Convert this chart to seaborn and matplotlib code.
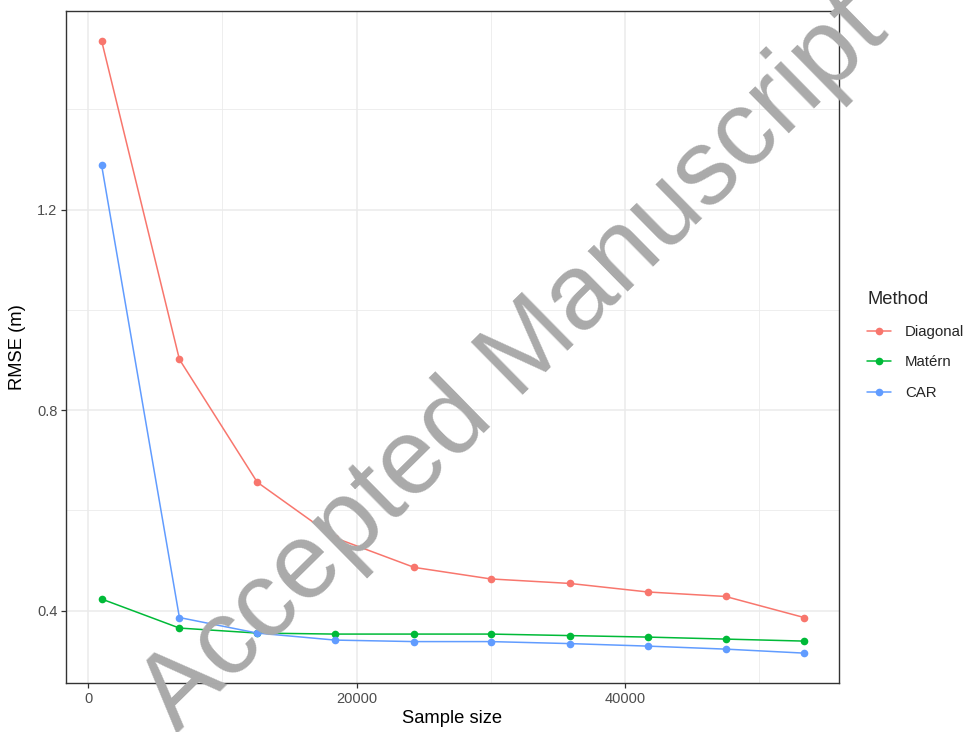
import numpy as np
import pandas as pd
import matplotlib
matplotlib.use("Agg")
import matplotlib.pyplot as plt
from matplotlib.ticker import MultipleLocator, FormatStrFormatter
import seaborn as sns

# Sample sizes evaluated
sample_size = [1000, 6800, 12600, 18400, 24300, 30000, 35900, 41700, 47500, 53350]

# RMSE (m) for each method
rmse_diagonal = [1.537, 0.901, 0.656, 0.545, 0.486, 0.463, 0.454, 0.437, 0.428, 0.386]
rmse_matern = [0.423, 0.365, 0.355, 0.353, 0.353, 0.353, 0.350, 0.347, 0.343, 0.339]
rmse_car = [1.289, 0.386, 0.355, 0.341, 0.338, 0.338, 0.334, 0.329, 0.323, 0.315]

methods = ["Diagonal", "Matérn", "CAR"]
palette = ["#F8766D", "#00BA38", "#619CFF"]

df = pd.DataFrame({
    "Sample size": sample_size * 3,
    "RMSE": rmse_diagonal + rmse_matern + rmse_car,
    "Method": np.repeat(methods, len(sample_size)),
})

sns.set_theme(style="white")
plt.rcParams["font.family"] = ["Liberation Sans", "DejaVu Sans"]

fig = plt.figure(figsize=(9.7, 7.32), dpi=100)
ax = fig.add_axes([66 / 970, 1 - 683 / 732, (839 - 66) / 970, (683 - 11) / 732])

sns.lineplot(data=df, x="Sample size", y="RMSE", hue="Method",
             hue_order=methods, palette=palette, marker="o",
             markersize=5.5, markeredgewidth=0, linewidth=1.1,
             ax=ax, legend=True, zorder=3)

ax.set_xlim(-1650, 55950)
ax.set_ylim(0.2554, 1.596)

ax.xaxis.set_major_locator(MultipleLocator(20000))
ax.xaxis.set_minor_locator(MultipleLocator(10000))
ax.yaxis.set_major_locator(MultipleLocator(0.4))
ax.yaxis.set_minor_locator(MultipleLocator(0.2))
ax.yaxis.set_major_formatter(FormatStrFormatter("%.1f"))
ax.xaxis.set_major_formatter(FormatStrFormatter("%d"))

ax.grid(which="major", color="#EBEBEB", linewidth=1.1, zorder=0)
ax.grid(which="minor", color="#EBEBEB", linewidth=0.6, zorder=0)
ax.set_axisbelow(True)

for s in ax.spines.values():
    s.set_color("#333333")
    s.set_linewidth(1.0)

ax.tick_params(which="major", direction="out", length=3.7, width=0.9,
               color="#333333", labelcolor="#4D4D4D", labelsize=10.5, pad=2.5,
               bottom=True, left=True)
ax.tick_params(which="minor", length=0)

ax.set_xlabel("Sample size", fontsize=13.2, color="black", labelpad=3)
ax.set_ylabel("RMSE (m)", fontsize=13.2, color="black", labelpad=8)

handles, labels = ax.get_legend_handles_labels()
ax.legend_.remove()
leg = fig.legend(handles, labels, title="Method", loc="upper left",
                 bbox_to_anchor=(854 / 970, 1 - 278 / 732), frameon=False,
                 fontsize=10.8, title_fontsize=13.2, handlelength=1.6,
                 labelspacing=1.1, handletextpad=0.9, alignment="left")

# Diagonal watermark across the page
fig.text(534 / 970, 1 - 384 / 732, "Accepted Manuscript", rotation=44.5,
         rotation_mode="anchor", ha="center", va="baseline",
         fontsize=77, color="#AAAAAA", family="Liberation Sans", zorder=10)

fig.savefig("out.png", dpi=100)
